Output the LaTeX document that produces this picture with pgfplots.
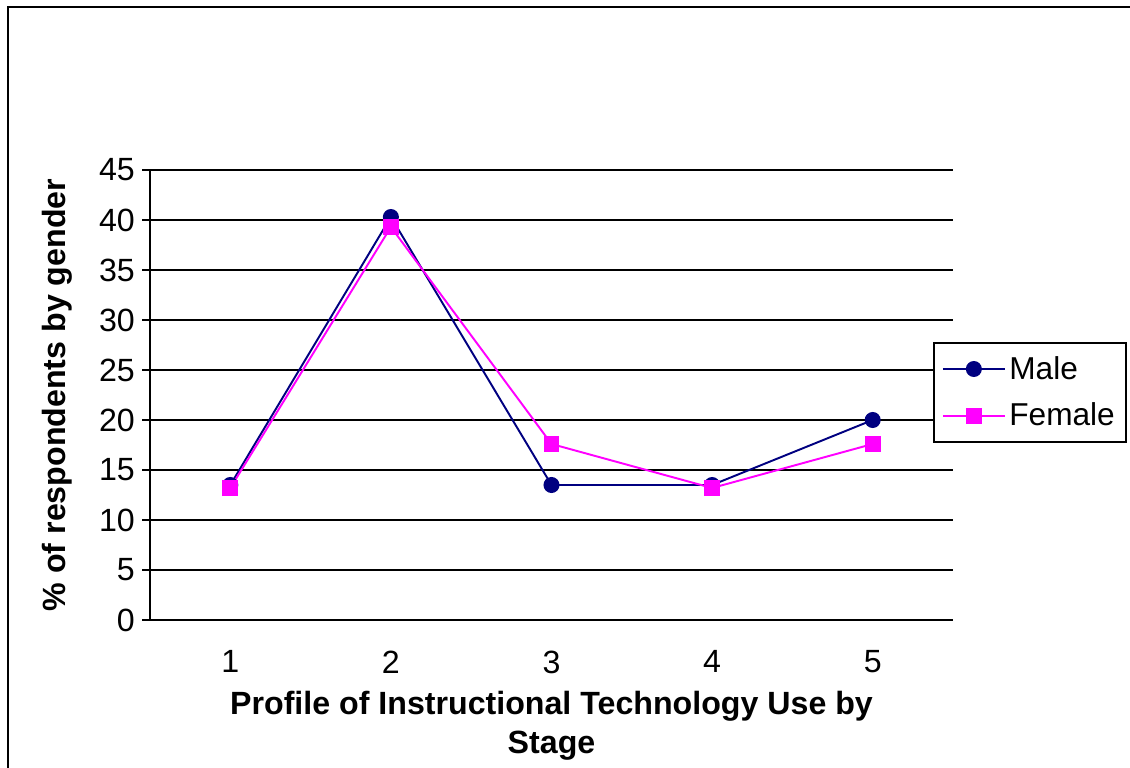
\documentclass[border=0pt]{standalone}
\usepackage{fontspec}
\setmainfont{Liberation Sans}
\usepackage{pgfplots}
\pgfplotsset{compat=1.18}
\definecolor{navyc}{RGB}{0,0,128}
\definecolor{magc}{RGB}{255,0,255}
\begin{document}
\begin{tikzpicture}
\useasboundingbox (0,0) rectangle (22.6cm,15.36cm);
\begin{scope}
\clip (0,0) rectangle (22.6cm,15.36cm);
\draw[line width=1.2pt] (0.16cm,-1cm) -- (0.16cm,15.22cm) -- (23cm,15.22cm);
\end{scope}
\begin{axis}[
  at={(3cm,2.96cm)}, anchor=south west,
  scale only axis, width=16.06cm, height=9cm,
  xmin=0.5, xmax=5.5, ymin=0, ymax=45,
  axis x line*=bottom, axis y line*=left,
  axis line style={line width=1pt},
  xtick={1,2,3,4,5},
  ytick={0,5,...,45},
  xtick pos=bottom, ytick pos=left,
  tick align=outside,
  major tick length=0.16cm,
  major x tick style={draw=none},
  extra x ticks={0.5,1.5,2.5,3.5,4.5,5.5},
  extra x tick labels={},
  extra x tick style={grid=none, major tick length=0.16cm, tick style={draw=black,line width=1pt}},
  ytick style={line width=1pt, black},
  ymajorgrids,
  grid style={line width=1pt, black},
  tick label style={font=\fontsize{18.3}{21}\selectfont},
  /pgf/number format/assume math mode=true,
  xticklabel style={yshift=-0.33cm},
  yticklabel style={xshift=-0.02cm},
  xlabel={Profile of Instructional Technology Use by\\Stage},
  xlabel style={at={(axis description cs:0.5,-0.145)}, anchor=north, align=center, font=\bfseries\fontsize{18.3}{22}\selectfont},
  ylabel={\% of respondents by gender},
  ylabel style={at={(axis description cs:-0.1158,0.5)}, anchor=center, font=\bfseries\fontsize{18.3}{21}\selectfont},
  legend style={at={(0.975,0.506)}, anchor=west, draw=black, line width=1.1pt, fill=white,
    font=\fontsize{18}{21}\selectfont, row sep=0.28cm, inner xsep=0.16cm, inner ysep=0.2cm},
  legend cell align=left,
  legend image code/.code={\draw[mark repeat=2,mark phase=2] plot coordinates {(0cm,0cm)(0.62cm,0cm)(1.24cm,0cm)};},
]
\addplot[color=navyc, line width=1.1pt, mark=*, mark size=4pt, mark options={solid, fill=navyc, draw=navyc}]
  coordinates {(1,13.5)(2,40.3)(3,13.5)(4,13.5)(5,20.0)};
\addlegendentry{Male}
\addplot[color=magc, line width=1.1pt, mark=square*, mark size=4pt, mark options={solid, fill=magc, draw=magc}]
  coordinates {(1,13.2)(2,39.3)(3,17.6)(4,13.2)(5,17.6)};
\addlegendentry{Female}
\end{axis}
\end{tikzpicture}
\end{document}
